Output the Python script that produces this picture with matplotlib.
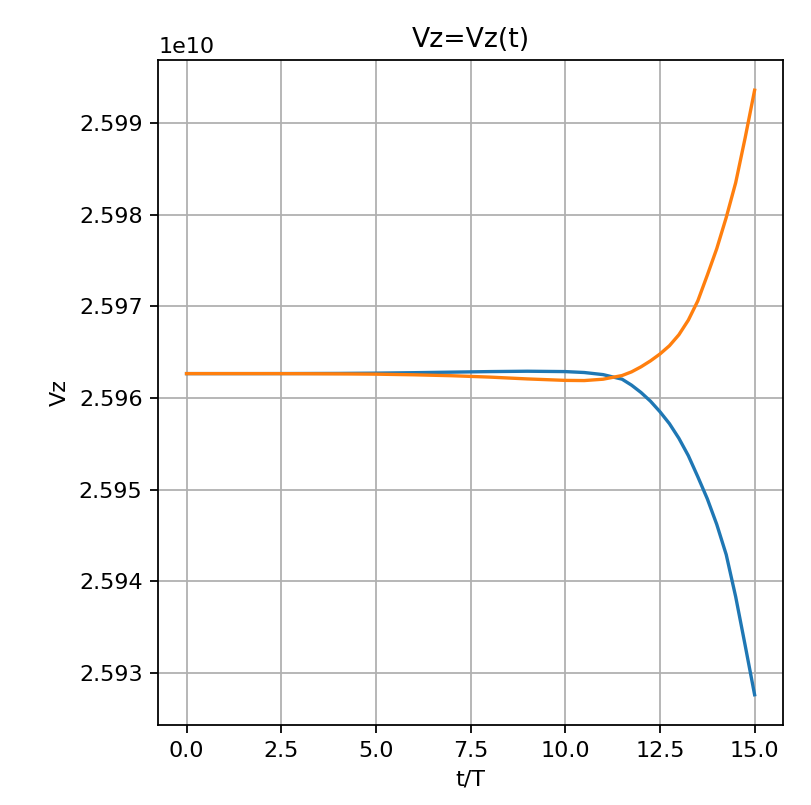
import matplotlib
matplotlib.use("Agg")
import matplotlib.pyplot as plt
from matplotlib.ticker import MultipleLocator

# time in units of T
t = [0, 1, 2, 3, 4, 5, 6, 7, 8, 9, 10, 10.5, 11, 11.5, 11.75, 12, 12.25,
     12.5, 12.75, 13, 13.25, 13.5, 13.75, 14, 14.25, 14.5, 14.75, 15]

# Vz for the two runs
vz_blue = [2.596266e10, 2.596266e10, 2.596266e10, 2.596267e10, 2.596268e10,
           2.596271e10, 2.596276e10, 2.596282e10, 2.596288e10, 2.596292e10,
           2.596288e10, 2.596278e10, 2.596255e10, 2.596205e10, 2.596140e10,
           2.596060e10, 2.595965e10, 2.595850e10, 2.595720e10, 2.595560e10,
           2.595370e10, 2.595140e10, 2.594900e10, 2.594620e10, 2.594290e10,
           2.593830e10, 2.593300e10, 2.592760e10]
vz_orange = [2.596266e10, 2.596266e10, 2.596266e10, 2.596265e10, 2.596263e10,
             2.596260e10, 2.596253e10, 2.596243e10, 2.596228e10, 2.596208e10,
             2.596192e10, 2.596190e10, 2.596205e10, 2.596245e10, 2.596285e10,
             2.596340e10, 2.596405e10, 2.596480e10, 2.596570e10, 2.596690e10,
             2.596850e10, 2.597060e10, 2.597340e10, 2.597630e10, 2.597970e10,
             2.598350e10, 2.598840e10, 2.599360e10]

fig = plt.figure(figsize=(811 / 160, 805 / 160), dpi=160)
ax = fig.add_axes([0.195, 0.0994, 0.7705, 0.8261])

ax.plot(t, vz_blue)
ax.plot(t, vz_orange)

ax.xaxis.set_major_locator(MultipleLocator(2.5))
ax.ticklabel_format(axis='y', useOffset=False)
ax.grid(True)
ax.set_title('Vz=Vz(t)')
ax.set_xlabel('t/T')
ax.set_ylabel('Vz')

fig.savefig('out.png', dpi=160)
